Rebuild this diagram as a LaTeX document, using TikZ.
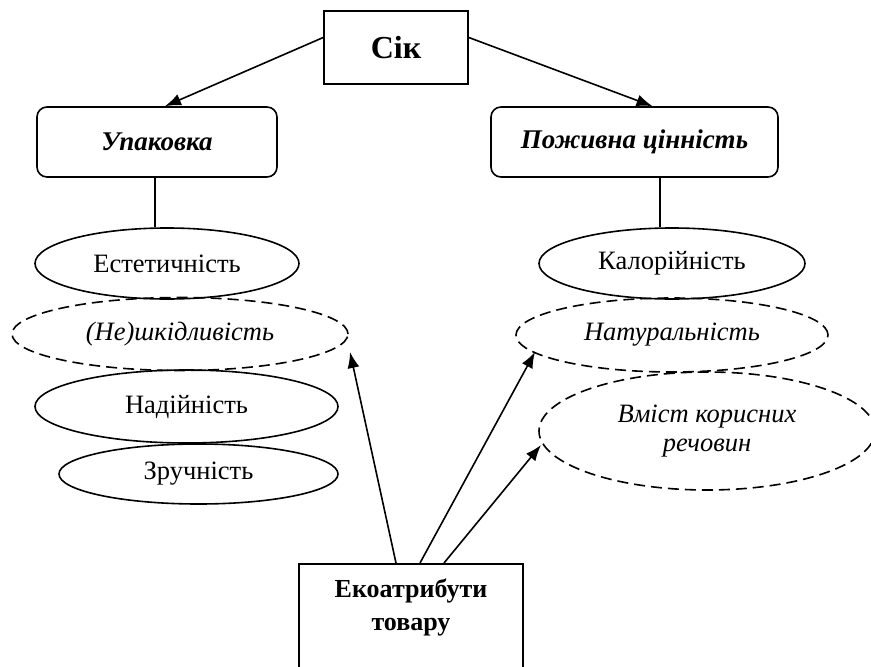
\documentclass[tikz,border=0pt]{standalone}
\usepackage{fontspec}
\setmainfont{Liberation Serif}
\usetikzlibrary{shapes.geometric,arrows.meta}
\begin{document}
\begin{tikzpicture}[x=1pt,y=-1pt,
  every node/.style={font=\fontsize{26.5}{30}\selectfont},
  line/.style={line width=1.6pt},
  arr/.style={line width=1.6pt,-{Latex[length=16pt,width=12pt]}},
  plainbox/.style={draw,line width=1.6pt,rectangle,inner sep=0pt},
  roundbox/.style={draw,line width=1.6pt,rectangle,rounded corners=10pt,inner sep=0pt,
    font=\fontsize{27}{30}\selectfont\bfseries\itshape},
  solidell/.style={draw,line width=1.6pt,ellipse,inner sep=0pt},
  dashell/.style={solidell,dash pattern=on 11pt off 6pt,font=\fontsize{26.5}{30}\selectfont\itshape},
]
\useasboundingbox (0,0) rectangle (871,667);
\clip (0,0) rectangle (871,667);

% top
\node[plainbox,minimum width=144pt,minimum height=73pt,
  font=\fontsize{32}{36}\selectfont\bfseries] (sik) at (396,47.5) {Сік};
\node[roundbox,minimum width=240pt,minimum height=70pt] (upak) at (157,142) {Упаковка};
\node[roundbox,minimum width=287pt,minimum height=70pt] (pozh) at (634.5,142) {Поживна цінність};

% left ellipses
\node[solidell,minimum width=264pt,minimum height=71pt] (est) at (167,263.5) {Естетичність};
\node[dashell,minimum width=336pt,minimum height=73pt] (shk) at (180,334) {(Не)шкідливість};
\node[solidell,minimum width=303pt,minimum height=73pt] (nad) at (186.5,406.5) {Надійність};
\node[solidell,minimum width=279pt,minimum height=60pt] (zru) at (198.5,474) {Зручність};

% right ellipses
\node[solidell,minimum width=266pt,minimum height=71pt] (kal) at (672,263.5) {Калорійність};
\node[dashell,minimum width=312pt,minimum height=74pt] (nat) at (672,335) {Натуральність};
\node[dashell,minimum width=336pt,minimum height=118pt,align=center,
  font=\fontsize{26.5}{29}\selectfont\itshape] (vmi) at (707,431)
  {Вміст корисних\\речовин};

% bottom box
\node[plainbox,minimum width=224pt,minimum height=120pt,anchor=north] (eco) at (411,563) {};
\node[font=\fontsize{26}{33}\selectfont\bfseries,align=center] (ecot) at (411,607)
  {Екоатрибути\\товару};

% free arrow ends
\coordinate (t1) at (350,352);
\coordinate (t2) at (535,352);
\coordinate (t3) at (541,445);

% connectors
\draw[arr] ([yshift=10pt]sik.west) -- ([xshift=8pt]upak.north);
\draw[arr] ([yshift=10pt]sik.east) -- ([xshift=18pt]pozh.north);
\draw[line] ([xshift=-2pt]upak.south) -- ([xshift=-12pt]est.north);
\draw[line] ([xshift=25.5pt]pozh.south) -- ([xshift=-12pt]kal.north);
\draw[arr] ([xshift=-15pt]eco.north) -- (t1);
\draw[arr] ([xshift=9pt]eco.north) -- (t2);
\draw[arr] ([xshift=33pt]eco.north) -- (t3);
\end{tikzpicture}
\end{document}
